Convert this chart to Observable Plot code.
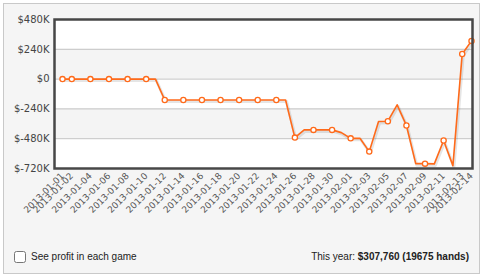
<!DOCTYPE html>
<html>
<head>
<meta charset="utf-8">
<script src="https://cdn.jsdelivr.net/npm/d3@7"></script>
<script src="https://cdn.jsdelivr.net/npm/@observablehq/plot@0.6"></script>
<style>
  html, body { margin: 0; padding: 0; background: #fff; }
  #wrap { position: relative; width: 483px; height: 279px; overflow: hidden; }
  #panel { position: absolute; left: 3px; top: 3px; width: 475px; height: 269px;
           border: 1px solid #c9c9c9; background: #f5f5f5; }
  #chart { position: absolute; left: 0; top: 0; }
  #chart svg { background: transparent; }
  #cb { position: absolute; left: 14px; top: 251px; width: 12px; height: 12px; margin: 0; }
  #cblabel { position: absolute; left: 31px; top: 250px; font: 10px "Liberation Sans", Arial, sans-serif; color: #222; line-height: 14px; }
  #total { position: absolute; right: 14px; top: 250px; font: 10px "Liberation Sans", Arial, sans-serif; color: #222; line-height: 14px; }
</style>
</head>
<body>
<div id="wrap">
  <div id="panel"></div>
  <div id="chart"></div>
  <input type="checkbox" id="cb">
  <div id="cblabel">See profit in each game</div>
  <div id="total">This year: <b>$307,760 (19675 hands)</b></div>
</div>
<script>
// Daily cumulative profit (thousands of $), 2013-01-01 .. 2013-02-14
const startDate = "2013-01-01";
const endDate = "2013-02-14";
const profitK = [
  0, 0, 0, 0, 0, 0, 0, 0, 0, 0, 0,                  // 01-01 .. 01-11
  -168, -168, -168, -168, -168, -168, -168,          // 01-12 .. 01-18
  -168, -168, -168, -168, -168, -168, -168,          // 01-19 .. 01-25
  -471, -409, -409, -409, -409, -431,                // 01-26 .. 01-31
  -477, -477, -584, -342, -339, -207, -374,          // 02-01 .. 02-07
  -681, -681, -683, -495, -697, 202, 307.76          // 02-08 .. 02-14
];
// x-axis tick labels (also where markers are drawn)
const tickLabels = [
  "2013-01-01","2013-01-02","2013-01-04","2013-01-06","2013-01-08","2013-01-10",
  "2013-01-12","2013-01-14","2013-01-16","2013-01-18","2013-01-20","2013-01-22",
  "2013-01-24","2013-01-26","2013-01-28","2013-01-30","2013-02-01","2013-02-03",
  "2013-02-05","2013-02-07","2013-02-09","2013-02-11","2013-02-13","2013-02-14"
];
const yTicks = [480000, 240000, 0, -240000, -480000, -720000];
const gridLines = [240000, 0, -240000, -480000];
const bandLo = [0, -480000];
const bandHi = [240000, -240000];

const parse = d3.utcParse("%Y-%m-%d");
const fmt = d3.utcFormat("%Y-%m-%d");
const days = d3.utcDay.range(parse(startDate), d3.utcDay.offset(parse(endDate), 1));
const data = days.map((d, i) => ({date: d, value: profitK[i] * 1000}));
const tickSet = new Set(tickLabels);
const marked = data.filter(d => tickSet.has(fmt(d.date)));
const tickDates = tickLabels.map(parse);
const bands = bandLo.map((lo, i) => ({lo, hi: bandHi[i]}));

const plot = Plot.plot({
  width: 483,
  height: 240,
  marginLeft: 54,
  marginRight: 11,
  marginTop: 19,
  marginBottom: 72,
  style: {background: "transparent", fontFamily: "'DejaVu Sans', Verdana, sans-serif"},
  x: {type: "utc", domain: [parse(startDate), parse(endDate)], insetLeft: 8, insetRight: 1},
  y: {domain: [-720000, 480000]},
  marks: [
    Plot.frame({fill: "white"}),
    Plot.rect(bands, {y1: "lo", y2: "hi", fill: "#f4f4f4"}),
    Plot.ruleY(gridLines, {stroke: "#c3c3c3", strokeWidth: 1}),
    Plot.axisY({ticks: yTicks, tickSize: 0, tickPadding: 5, fontSize: 10, fill: "#444",
      tickFormat: v => v === 0 ? "$0" : `$${v / 1000}K`}),
    Plot.axisX({ticks: tickDates, tickSize: 0, tickPadding: 6, tickRotate: -45, fontSize: 9,
      fill: "#555", tickFormat: fmt}),
    Plot.line(data, {x: "date", y: "value", stroke: "#000", strokeOpacity: 0.1, strokeWidth: 3, dx: 1, dy: 1.5}),
    Plot.line(data, {x: "date", y: "value", stroke: "#ff6a1a", strokeWidth: 1.6}),
    Plot.dot(marked, {x: "date", y: "value", r: 2.6, fill: "white", stroke: "#ff6a1a", strokeWidth: 1.3}),
    Plot.frame({stroke: "#474747", strokeWidth: 2.5})
  ]
});
document.getElementById("chart").appendChild(plot);
</script>
</body>
</html>
